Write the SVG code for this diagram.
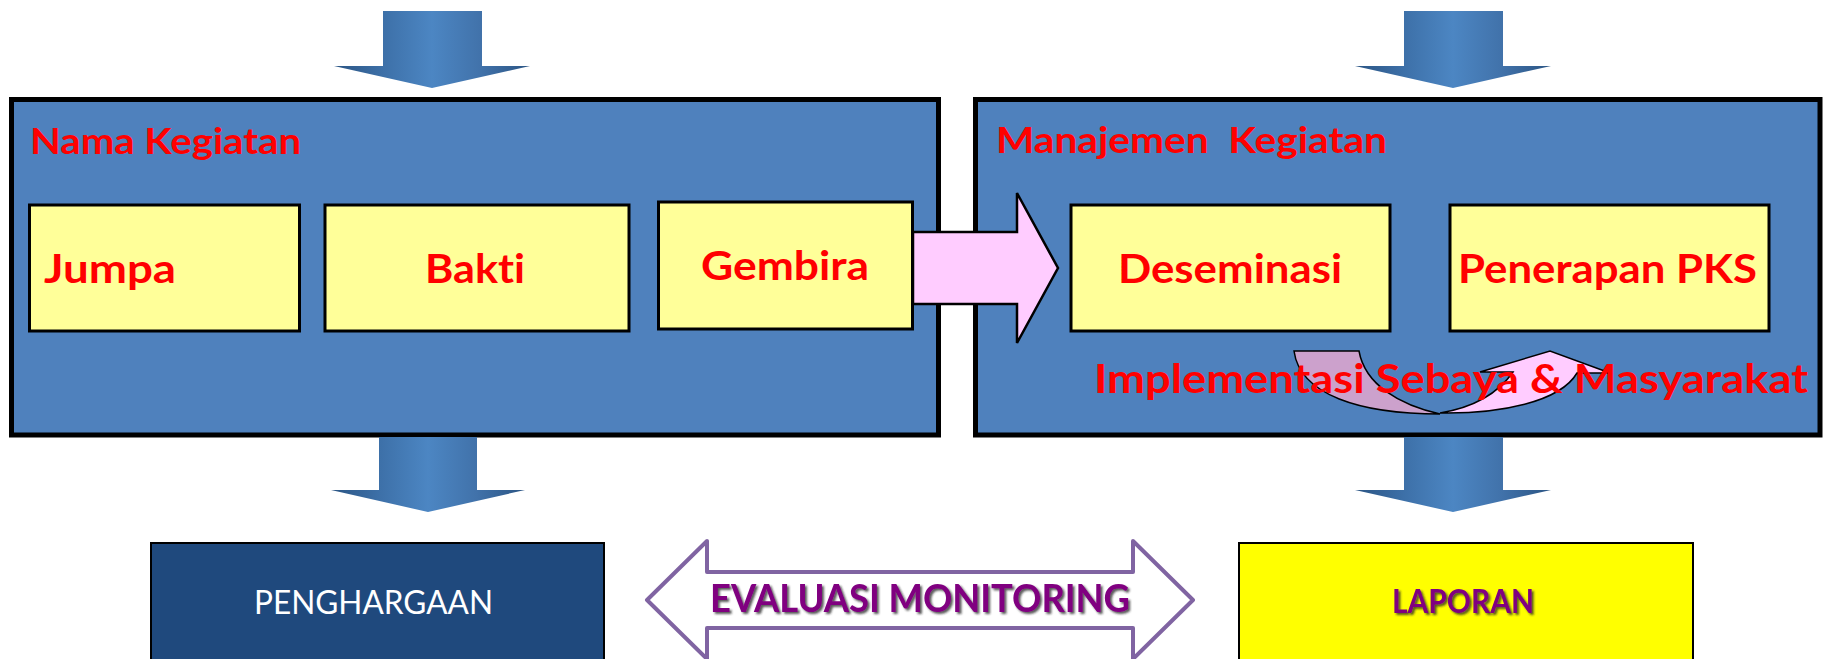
<svg xmlns="http://www.w3.org/2000/svg" width="1824" height="659" viewBox="0 0 1824 659">
<style>
text{font-variant-ligatures:none;font-feature-settings:"liga" 0,"clig" 0}
.box{fill:#4F81BD;stroke:#000;stroke-width:5}
.ybox{fill:#FFFF99;stroke:#000;stroke-width:3}
.red{font-family:Lato,"Open Sans",sans-serif;font-weight:bold;fill:#FF0000}
.purple{font-family:Lato,"Open Sans",sans-serif;font-weight:bold;fill:#800080;filter:url(#shadow)}
.white{font-family:Lato,"Open Sans",sans-serif;fill:#FFFFFF}
.down{fill:url(#blueArrow);stroke:none}
.pink{fill:#FFCCFF;stroke:#000;stroke-width:2.5;stroke-linejoin:miter}
</style>
<defs>
<linearGradient id="blueArrow" x1="0" y1="0" x2="1" y2="0">
<stop offset="0" stop-color="#2B5584"/>
<stop offset="0.25" stop-color="#3D70A8"/>
<stop offset="0.5" stop-color="#4C86C3"/>
<stop offset="0.75" stop-color="#4172AA"/>
<stop offset="1" stop-color="#2B5584"/>
</linearGradient>
<filter id="shadow" x="-10%" y="-30%" width="120%" height="160%">
<feDropShadow dx="2" dy="2" stdDeviation="1" flood-color="#222" flood-opacity="0.75"/>
</filter>
</defs>
<rect width="1824" height="659" fill="#FFFFFF"/>

<g id="nama-kegiatan">
<rect class="box" x="11.5" y="99.5" width="927" height="335.5"/>
<text class="red" x="30" y="154" font-size="37" textLength="271" lengthAdjust="spacingAndGlyphs">Nama Kegiatan</text>
</g>
<g id="manajemen-kegiatan">
<rect class="box" x="975.5" y="99.5" width="844.5" height="335.5"/>
<text class="red" x="996" y="153" font-size="37" textLength="391" lengthAdjust="spacingAndGlyphs" xml:space="preserve">Manajemen  Kegiatan</text>
</g>

<g id="connectors">
<path class="down" d="M383,11 H482 V66 H530 L432,88 L334,66 H383 Z"/>
<path class="down" d="M1404,11 H1503 V66 H1551 L1453,88 L1355,66 H1404 Z"/>
<path class="down" d="M379,437 H477 V490 H525 L428,512 L331,490 H379 Z"/>
<path class="down" d="M1404,437 H1503 V490 H1551 L1453,512 L1355,490 H1404 Z"/>
<path class="pink" d="M913,232 L1017,232 L1017,193 L1058,268 L1017,343 L1017,304 L913,304 Z"/>
<path fill="#CCA1CC" stroke="#000" stroke-width="1.5" d="M1294,351 L1359,351 C1365,385 1400,405 1440,414 C1360,414 1300,395 1294,351 Z"/>
<path fill="#FFCCFF" stroke="#000" stroke-width="1.5" d="M1440,413 C1500,414 1560,402 1577,373 L1610,373 L1550,351 L1480,372 L1513,372 C1497,395 1470,408 1440,413 Z"/>
<g id="evaluasi-monitoring">
<path fill="#FFFFFF" stroke="#8064A2" stroke-width="4" stroke-linejoin="round" d="M647,600 L707,541 L707,572 L1133,572 L1133,541 L1193,600 L1133,659 L1133,628 L707,628 L707,659 Z"/>
<text class="purple" x="710" y="612" font-size="39" textLength="420" lengthAdjust="spacingAndGlyphs">EVALUASI MONITORING</text>
</g>
</g>

<g id="jumpa">
<rect class="ybox" x="29.5" y="205" width="270" height="126"/>
<text class="red" x="44" y="283" font-size="41" textLength="132" lengthAdjust="spacingAndGlyphs">Jumpa</text>
</g>
<g id="bakti">
<rect class="ybox" x="325" y="205" width="304" height="126"/>
<text class="red" x="425" y="283" font-size="41" textLength="100" lengthAdjust="spacingAndGlyphs">Bakti</text>
</g>
<g id="gembira">
<rect class="ybox" x="658.5" y="202" width="254" height="127"/>
<text class="red" x="701" y="280" font-size="41" textLength="168" lengthAdjust="spacingAndGlyphs">Gembira</text>
</g>
<g id="deseminasi">
<rect class="ybox" x="1071" y="205" width="319" height="126"/>
<text class="red" x="1118" y="283" font-size="41" textLength="224" lengthAdjust="spacingAndGlyphs">Deseminasi</text>
</g>
<g id="penerapan-pks">
<rect class="ybox" x="1450" y="205" width="319" height="126"/>
<text class="red" x="1458" y="283" font-size="41" textLength="299" lengthAdjust="spacingAndGlyphs">Penerapan PKS</text>
</g>
<g id="implementasi">
<text class="red" x="1094" y="393" font-size="40" textLength="714" lengthAdjust="spacingAndGlyphs">Implementasi Sebaya &amp; Masyarakat</text>
</g>

<g id="penghargaan">
<rect x="151" y="543" width="453" height="130" fill="#1F497D" stroke="#000" stroke-width="2"/>
<text class="white" x="254" y="614" font-size="33" textLength="239" lengthAdjust="spacingAndGlyphs">PENGHARGAAN</text>
</g>
<g id="laporan">
<rect x="1239" y="543" width="454" height="130" fill="#FFFF00" stroke="#000" stroke-width="2"/>
<text class="purple" x="1392" y="613" font-size="32" textLength="142" lengthAdjust="spacingAndGlyphs">LAPORAN</text>
</g>
</svg>
